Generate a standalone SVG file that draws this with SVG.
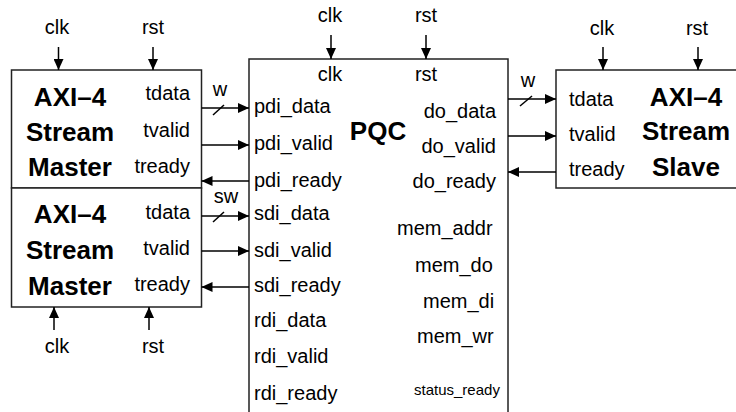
<svg xmlns="http://www.w3.org/2000/svg" width="736" height="412" viewBox="0 0 736 412">
<defs>
<style>
.box{fill:#fff;stroke:#222;stroke-width:1.5}
.t{font-family:"Liberation Sans",Arial,sans-serif;font-size:20px;fill:#000}
.b{font-family:"Liberation Sans",Arial,sans-serif;font-size:26px;font-weight:bold;fill:#000;text-anchor:middle}
.s{font-family:"Liberation Sans",Arial,sans-serif;font-size:15px;fill:#000}
.m{text-anchor:middle}
.e{text-anchor:end}
.w{stroke:#000;stroke-width:1.5;fill:none}
.a{stroke:#000;stroke-width:1.5;fill:none;marker-end:url(#ah)}
</style>
<marker id="ah" markerUnits="userSpaceOnUse" markerWidth="11" markerHeight="10" refX="11" refY="5" orient="auto">
<path d="M0,0 L11,5 L0,10 z" fill="#000"/>
</marker>
</defs>
<rect width="736" height="412" fill="#fff"/>

<g id="master1">
<rect class="box" x="11.5" y="70" width="190" height="118"/>
<text class="b" x="70" y="106">AXI–4</text>
<text class="b" x="70" y="141">Stream</text>
<text class="b" x="70" y="176">Master</text>
<text class="t e" x="190" y="100">tdata</text>
<text class="t e" x="190" y="137">tvalid</text>
<text class="t e" x="190" y="173">tready</text>
<text class="t m" x="57" y="34">clk</text>
<text class="t m" x="153" y="34">rst</text>
</g>

<g id="master2">
<rect class="box" x="11.5" y="188" width="190" height="119"/>
<text class="b" x="70" y="223">AXI–4</text>
<text class="b" x="70" y="259">Stream</text>
<text class="b" x="70" y="295">Master</text>
<text class="t e" x="190" y="219">tdata</text>
<text class="t e" x="190" y="255">tvalid</text>
<text class="t e" x="190" y="291">tready</text>
<text class="t m" x="57" y="353">clk</text>
<text class="t m" x="153" y="353">rst</text>
</g>

<g id="pqc">
<rect class="box" x="249" y="59" width="259" height="370"/>
<text class="b" x="378" y="140">PQC</text>
<text class="t m" x="330" y="81">clk</text>
<text class="t m" x="426" y="81">rst</text>
<text class="t m" x="330" y="22">clk</text>
<text class="t m" x="426" y="22">rst</text>
<text class="t" x="254" y="113">pdi_data</text>
<text class="t" x="254" y="150">pdi_valid</text>
<text class="t" x="254" y="187">pdi_ready</text>
<text class="t" x="254" y="220">sdi_data</text>
<text class="t" x="254" y="257">sdi_valid</text>
<text class="t" x="254" y="292">sdi_ready</text>
<text class="t" x="254" y="327">rdi_data</text>
<text class="t" x="254" y="363">rdi_valid</text>
<text class="t" x="254" y="400">rdi_ready</text>
<text class="t e" x="496" y="118">do_data</text>
<text class="t e" x="496" y="153">do_valid</text>
<text class="t e" x="496" y="188">do_ready</text>
<text class="t" x="397" y="235">mem_addr</text>
<text class="t" x="415" y="272">mem_do</text>
<text class="t" x="423" y="308">mem_di</text>
<text class="t" x="417" y="343">mem_wr</text>
<text class="s" x="414" y="395">status_ready</text>
</g>

<g id="slave">
<rect class="box" x="556" y="70" width="190" height="118"/>
<text class="b" x="686" y="106">AXI–4</text>
<text class="b" x="686" y="140">Stream</text>
<text class="b" x="686" y="176">Slave</text>
<text class="t" x="569" y="106">tdata</text>
<text class="t" x="569" y="141">tvalid</text>
<text class="t" x="569" y="176">tready</text>
<text class="t m" x="602" y="35">clk</text>
<text class="t m" x="697" y="35">rst</text>
</g>

<g id="connectors">
<line class="a" x1="58.5" y1="47" x2="58.5" y2="70"/>
<line class="a" x1="153" y1="47" x2="153" y2="70"/>
<line class="a" x1="54" y1="330" x2="54" y2="307"/>
<line class="a" x1="149" y1="330" x2="149" y2="307"/>
<line class="a" x1="331" y1="35" x2="331" y2="59"/>
<line class="a" x1="426" y1="35" x2="426" y2="59"/>
<line class="a" x1="603" y1="47" x2="603" y2="70"/>
<line class="a" x1="698" y1="47" x2="698" y2="70"/>

<line class="a" x1="201.5" y1="108" x2="249" y2="108"/>
<line class="a" x1="201.5" y1="145" x2="249" y2="145"/>
<line class="a" x1="249" y1="181" x2="201.5" y2="181"/>
<line class="a" x1="201.5" y1="216" x2="249" y2="216"/>
<line class="a" x1="201.5" y1="251" x2="249" y2="251"/>
<line class="a" x1="249" y1="287" x2="201.5" y2="287"/>

<line class="a" x1="508" y1="99" x2="556" y2="99"/>
<line class="a" x1="508" y1="136" x2="556" y2="136"/>
<line class="a" x1="556" y1="172" x2="508" y2="172"/>

<line class="w" x1="213" y1="115" x2="224" y2="105"/>
<line class="w" x1="213" y1="222" x2="224" y2="212"/>
<line class="w" x1="520" y1="106" x2="532" y2="96"/>
<text class="t m" x="220" y="96">w</text>
<text class="t m" x="226" y="203">sw</text>
<text class="t m" x="528" y="87">w</text>
</g>
</svg>
